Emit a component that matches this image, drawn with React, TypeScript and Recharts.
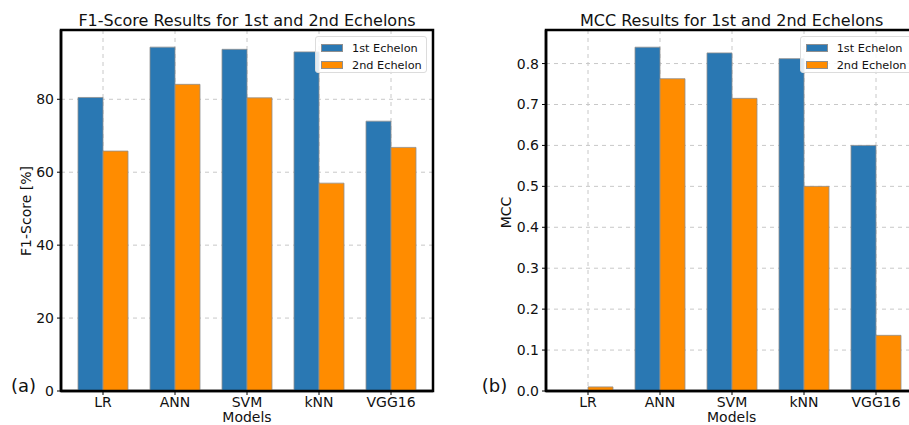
import React from 'react';
import * as R from 'recharts';
import { Bar, BarChart, CartesianGrid, XAxis, YAxis } from 'recharts';

// values
const models = ['LR', 'ANN', 'SVM', 'kNN', 'VGG16'];
const f1First = [80.5, 94.3, 93.7, 93.0, 74.0];
const f1Second = [65.8, 84.1, 80.4, 57.0, 66.8];
const mccFirst = [0.0, 0.84, 0.826, 0.812, 0.6];
const mccSecond = [0.01, 0.763, 0.715, 0.5, 0.136];
const f1Ticks = [0, 20, 40, 60, 80];
const mccTicks = [0, 0.1, 0.2, 0.3, 0.4, 0.5, 0.6, 0.7, 0.8];
const seriesNames = ['1st Echelon', '2nd Echelon'];

const BLUE = '#2a78b3';
const ORANGE = '#ff8c00';
const EDGE = '#8f8f8f';
const FONT = '"DejaVu Sans", Verdana, sans-serif';

// black box around the plot area, like matplotlib's spines
const usePlotArea: any = (R as any).usePlotArea;
function Frame() {
  const area = usePlotArea ? usePlotArea() : null;
  if (!area) return null;
  return (
    <rect x={area.x} y={area.y} width={area.width} height={area.height} fill="none" stroke="#000" strokeWidth={2.5} />
  );
}

interface PanelProps {
  left: number;
  first: number[];
  second: number[];
  ticks: number[];
  yMax: number;
  fmt: (v: number) => string;
  yAxisWidth: number;
}

function Panel({ left, first, second, ticks, yMax, fmt, yAxisWidth }: PanelProps) {
  const data = models.map((m, i) => ({ model: m, first: first[i], second: second[i] }));
  const axisLine = { stroke: '#000', strokeWidth: 2.5 };
  const tick = { fontSize: 14, fill: '#111', fontFamily: FONT };
  return (
    <div style={{ position: 'absolute', left, top: 0, width: 460, height: 425 }}>
      <BarChart
        width={460}
        height={425}
        data={data}
        margin={{ top: 30, right: 27, bottom: 14, left: 61 - yAxisWidth }}
        barCategoryGap={11}
        barGap={0}
      >
        <CartesianGrid strokeDasharray="4 4" stroke="#c8c8c8" />
        <XAxis
          dataKey="model"
          height={20}
          padding={{ left: 6, right: 6 }}
          axisLine={axisLine}
          tickLine={{ stroke: '#000' }}
          tickSize={4}
          tickMargin={2}
          tick={tick}
          interval={0}
        />
        <YAxis
          width={yAxisWidth}
          domain={[0, yMax]}
          ticks={ticks}
          tickFormatter={fmt}
          axisLine={axisLine}
          tickLine={{ stroke: '#000' }}
          tickSize={4}
          tickMargin={3}
          tick={tick}
          allowDataOverflow
        />
        <Bar dataKey="first" fill={BLUE} stroke={EDGE} strokeWidth={0.8} isAnimationActive={false} />
        <Bar dataKey="second" fill={ORANGE} stroke={EDGE} strokeWidth={0.8} isAnimationActive={false} />
        <Frame />
      </BarChart>
      <div
        style={{
          position: 'absolute',
          left: 315,
          top: 36,
          width: 112,
          height: 37,
          boxSizing: 'border-box',
          border: '1px solid #dcdcdc',
          borderRadius: 3,
          background: 'rgba(255,255,255,0.85)',
          fontFamily: FONT,
          fontSize: 11.3,
          color: '#111',
        }}
      >
        {seriesNames.map((name, i) => (
          <div
            key={name}
            style={{ position: 'absolute', left: 5, top: 4 + i * 17, height: 14, display: 'flex', alignItems: 'center', whiteSpace: 'nowrap' }}
          >
            <span
              style={{
                display: 'inline-block',
                width: 22,
                height: 8,
                boxSizing: 'border-box',
                background: i === 0 ? BLUE : ORANGE,
                border: `1px solid ${EDGE}`,
                marginRight: 9,
              }}
            />
            {name}
          </div>
        ))}
      </div>
    </div>
  );
}

export default function App() {
  return (
    <div style={{ position: 'absolute', left: 0, top: 0, width: 909, height: 425, overflow: 'hidden', background: '#fff' }}>
      <Panel left={0} first={f1First} second={f1Second} ticks={f1Ticks} yMax={99} fmt={(v) => String(v)} yAxisWidth={40} />
      <Panel left={484.7} first={mccFirst} second={mccSecond} ticks={mccTicks} yMax={0.882} fmt={(v) => v.toFixed(1)} yAxisWidth={40} />
      <svg width={909} height={425} style={{ position: 'absolute', left: 0, top: 0, pointerEvents: 'none' }} fontFamily={FONT}>
        <text x={247} y={26} fontSize={16} textAnchor="middle" fill="#111">F1-Score Results for 1st and 2nd Echelons</text>
        <text x={731.7} y={26} fontSize={16} textAnchor="middle" fill="#111">MCC Results for 1st and 2nd Echelons</text>
        <text x={31} y={211} fontSize={14} textAnchor="middle" fill="#111" transform="rotate(-90 31 211)">F1-Score [%]</text>
        <text x={511} y={212.5} fontSize={14} textAnchor="middle" fill="#111" transform="rotate(-90 511 212.5)">MCC</text>
        <text x={247} y={422} fontSize={14} textAnchor="middle" fill="#111">Models</text>
        <text x={731.7} y={422} fontSize={14} textAnchor="middle" fill="#111">Models</text>
        <text x={11} y={392} fontSize={18} fill="#111">(a)</text>
        <text x={481.7} y={392} fontSize={18} fill="#111">(b)</text>
      </svg>
    </div>
  );
}
